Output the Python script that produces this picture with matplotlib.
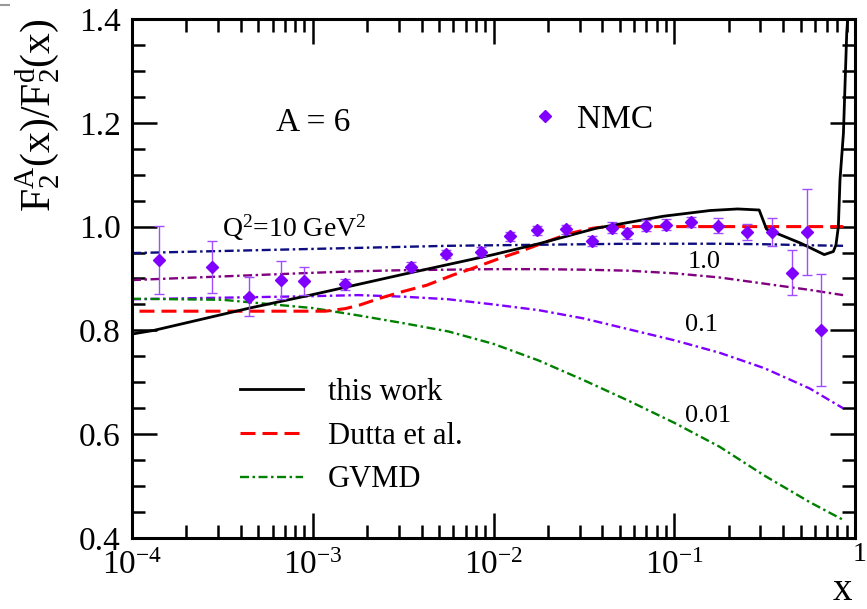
import numpy as np
import matplotlib
matplotlib.use("Agg")
import matplotlib.pyplot as plt
from matplotlib.lines import Line2D
from matplotlib.ticker import LogLocator, MultipleLocator, FuncFormatter, NullFormatter

plt.rcParams['font.family'] = 'Liberation Serif'
plt.rcParams['mathtext.fontset'] = 'custom'
plt.rcParams['mathtext.rm'] = 'Liberation Serif'
plt.rcParams['mathtext.it'] = 'Liberation Serif:italic'
plt.rcParams['mathtext.default'] = 'regular'

# this work
work_x = [1e-4, 1.32e-4, 4.47e-4, 1e-3, 3.16e-3, 1e-2, 1.78e-2, 3.72e-2, 8.71e-2,
          0.158, 0.224, 0.295, 0.324, 0.501, 0.676, 0.759, 0.785, 0.809, 0.826,
          0.863, 0.900, 0.923]
work_y = [0.793, 0.800, 0.843, 0.869, 0.908, 0.946, 0.967, 0.997, 1.020,
          1.031, 1.034, 1.032, 0.995, 0.968, 0.946, 0.952, 0.965, 1.000, 1.090,
          1.180, 1.373, 1.430]

# Dutta et al.
dutta_x = [1.1e-4, 1.175e-3, 1.514e-3, 1.824e-3, 2.355e-3, 3.162e-3, 4.266e-3,
           5.998e-3, 7.727e-3, 1.086e-2, 1.403e-2, 1.968e-2, 2.649e-2, 3.548e-2,
           4.266e-2, 0.861]
dutta_y = [0.837, 0.837, 0.842, 0.849, 0.862, 0.875, 0.887,
           0.907, 0.920, 0.939, 0.952, 0.971, 0.987, 0.997,
           1.000, 1.000]

# GVMD for several Q^2
gvmd_logx = [-4, -3.5, -3, -2.75, -2.5, -2.25, -2, -1.75, -1.5, -1.25, -1,
             -0.75, -0.5, -0.25, -0.066]
gvmd_q10 = [0.949, 0.953, 0.957, 0.959, 0.961, 0.963, 0.964, 0.965, 0.966,
            0.967, 0.967, 0.967, 0.966, 0.964, 0.963]
gvmd_q1 = [0.897, 0.904, 0.911, 0.914, 0.916, 0.917, 0.918, 0.918, 0.917,
           0.915, 0.910, 0.902, 0.890, 0.878, 0.868]
gvmd_q01 = [0.860, 0.863, 0.866, 0.868, 0.865, 0.860, 0.850, 0.839, 0.823,
            0.802, 0.781, 0.757, 0.727, 0.688, 0.650]
gvmd_q001 = [0.861, 0.859, 0.843, 0.829, 0.814, 0.798, 0.774, 0.742, 0.704,
             0.664, 0.622, 0.576, 0.520, 0.469, 0.435]

# NMC data
nmc_x = [1.41e-4, 2.77e-4, 4.46e-4, 6.70e-4, 8.97e-4, 1.51e-3, 3.50e-3, 5.46e-3,
         8.49e-3, 1.24e-2, 1.73e-2, 2.51e-2, 3.49e-2, 4.51e-2, 5.50e-2, 6.98e-2,
         9.00e-2, 0.124, 0.175, 0.252, 0.348, 0.450, 0.545, 0.649]
nmc_y = [0.936, 0.923, 0.865, 0.897, 0.895, 0.889, 0.923, 0.947,
         0.952, 0.981, 0.993, 0.995, 0.972, 0.998, 0.987, 1.002,
         1.004, 1.009, 1.002, 0.990, 0.989, 0.911, 0.989, 0.801]
nmc_err = [0.066, 0.050, 0.038, 0.036, 0.027, 0.011, 0.008, 0.008,
           0.008, 0.009, 0.009, 0.009, 0.009, 0.010, 0.010, 0.010,
           0.010, 0.010, 0.015, 0.015, 0.027, 0.043, 0.083, 0.108]

W, H = 867, 609
fig = plt.figure(figsize=(W / 100, H / 100), dpi=100)
ax = fig.add_axes([132 / W, 71 / H, 723 / W, 519 / H])

gx = 10 ** np.array(gvmd_logx)
dashdot = (0, (3.8, 1.5, 1.05, 1.5))
ax.plot(gx, gvmd_q10, color='#0d0d80', lw=1.7, ls=dashdot)
ax.plot(gx, gvmd_q1, color='#800080', lw=1.7, ls=dashdot)
ax.plot(gx, gvmd_q01, color='#8000ff', lw=1.7, ls=dashdot)
l_gvmd, = ax.plot(gx, gvmd_q001, color='#008000', lw=1.7, ls=dashdot)
l_dutta, = ax.plot(dutta_x, dutta_y, color='#ff0000', lw=2.2, ls=(0, (4.9, 2.3)))
l_work, = ax.plot(work_x, work_y, color='black', lw=2.0)

ax.errorbar(nmc_x, nmc_y, yerr=nmc_err, fmt='D', ms=6.5, color='#8000ff',
            mec='#8000ff', ecolor='#a04dff', elinewidth=1.0, capsize=3.6,
            capthick=1.0, zorder=5)

ax.set_xscale('log')
ax.set_xlim(1e-4, 1)
ax.set_ylim(0.4, 1.4)

ax.xaxis.set_major_locator(LogLocator(base=10, numticks=10))
ax.xaxis.set_minor_locator(LogLocator(base=10, subs=np.arange(2, 10), numticks=100))
ax.xaxis.set_minor_formatter(NullFormatter())


def xfmt(v, pos):
    e = int(round(np.log10(v)))
    if e >= 0:
        return ''
    return r'$10^{%d}$' % e


ax.xaxis.set_major_formatter(FuncFormatter(xfmt))
ax.yaxis.set_major_locator(MultipleLocator(0.2))
ax.yaxis.set_minor_locator(MultipleLocator(0.05))
ax.yaxis.set_major_formatter(FuncFormatter(lambda v, p: '%.1f' % v))

ax.tick_params(which='both', direction='in', top=True, right=True, width=1.8,
               labelsize=24)
ax.tick_params(which='major', length=18)
ax.tick_params(which='minor', length=9.5)
ax.tick_params(axis='x', pad=9)
ax.tick_params(axis='y', pad=8)
for s in ax.spines.values():
    s.set_linewidth(2.2)

ax.text(6.3e-4, 1.2, 'A = 6', fontsize=24, ha='left', va='center')
ax.text(3.15e-4, 0.997, r'Q$^2$=10 GeV$^2$', fontsize=20, ha='left', va='center')
ax.text(0.118, 0.931, '1.0', fontsize=19, ha='left', va='center')
ax.text(0.1148, 0.810, '0.1', fontsize=19, ha='left', va='center')
ax.text(0.1148, 0.635, '0.01', fontsize=19, ha='left', va='center')

leg = ax.legend([l_work, l_dutta, l_gvmd], ['this work', 'Dutta et al.', 'GVMD'],
                loc='upper left', bbox_to_anchor=(0.149, 0.308), frameon=False,
                fontsize=22, handlelength=2.07, handletextpad=0.82,
                labelspacing=0.48, borderpad=0, borderaxespad=0)
ax.add_artist(leg)

nmc_key = Line2D([], [], marker='D', ms=6.5, color='#8000ff', ls='none')
ax.legend([nmc_key], ['NMC'], loc='upper left', bbox_to_anchor=(0.553, 0.836),
          frameon=False, fontsize=24, handlelength=0.8, handletextpad=0.55,
          borderpad=0, borderaxespad=0)

fig.text(37 / W, 1 - 115 / H, r'F$_2^A$(x)/F$_2^d$(x)', rotation=90,
         ha='center', va='center', fontsize=30)
fig.text(842 / W, 0.5 / H, 'x', ha='center', va='bottom', fontsize=28)
fig.text(866 / W, 1 - 542 / H, '1', ha='right', va='top', fontsize=20)
fig.add_artist(Line2D([0, 9 / W], [1 - 5 / H, 1 - 5 / H], color='#999999', lw=1.5))

fig.savefig('out.png', dpi=100)
